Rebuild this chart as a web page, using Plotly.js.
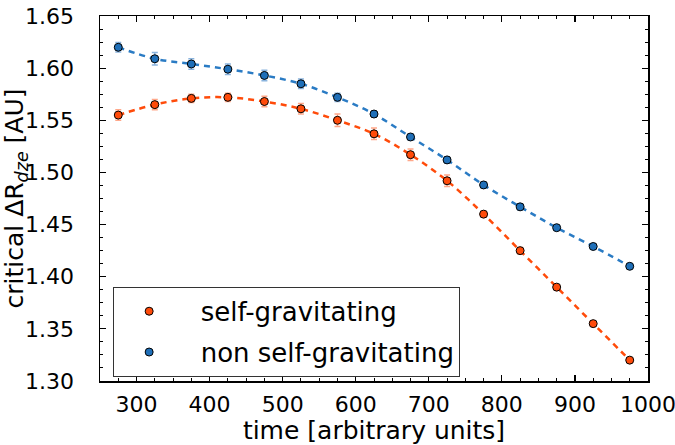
<!DOCTYPE html>
<html>
<head>
<meta charset="utf-8">
<script src="https://cdn.plot.ly/plotly-3.0.1.min.js"></script>
<style>html,body{margin:0;padding:0;background:#fff;}#chart{width:675px;height:445px;}</style>
</head>
<body>
<div id="chart"></div>
<script>
const time = [275, 325, 375, 425, 475, 525, 575, 625, 675, 725, 775, 825, 875, 925, 975];
const selfGrav = [1.555, 1.565, 1.571, 1.572, 1.568, 1.561, 1.550, 1.537, 1.517, 1.492, 1.460, 1.425, 1.390, 1.355, 1.320];
const selfGravErr = [0.005, 0.005, 0.004, 0.004, 0.005, 0.005, 0.006, 0.0055, 0.0055, 0.0055, 0.003, 0.003, 0.002, 0.002, 0.002];
const nonSelfGrav = [1.620, 1.609, 1.604, 1.599, 1.593, 1.585, 1.572, 1.556, 1.534, 1.512, 1.488, 1.467, 1.447, 1.429, 1.410];
const nonSelfGravErr = [0.0045, 0.006, 0.005, 0.005, 0.005, 0.0045, 0.004, 0.003, 0.003, 0.003, 0.003, 0.003, 0.002, 0.002, 0.002];
const xTicks = [300, 400, 500, 600, 700, 800, 900, 1000];
const yTicks = [1.30, 1.35, 1.40, 1.45, 1.50, 1.55, 1.60, 1.65];
const names = ['self-gravitating', 'non self-gravitating'];

const orange = '#ff4b0a', blue = '#1f6fb8';
const font = 'DejaVu Sans, sans-serif';

function fitLine(y, color) {
  return {x: time, y: y, mode: 'lines', line: {color: color, width: 2.5, dash: '6px,5px', shape: 'spline'},
          showlegend: false, hoverinfo: 'skip'};
}
function pts(y, err, color, errColor, name, grp) {
  return {x: time, y: y, mode: 'markers', name: '\u00A0\u00A0' + name, legendgroup: grp,
          marker: {color: color, size: 8, line: {color: '#000', width: 1}},
          error_y: {type: 'data', array: err, visible: true, color: errColor, thickness: 1.5, width: 3}};
}
const data = [
  fitLine(selfGrav, orange),
  fitLine(nonSelfGrav, '#2a7bc4'),
  pts(selfGrav, selfGravErr, orange, 'rgba(255,110,60,0.6)', names[0], 'a'),
  pts(nonSelfGrav, nonSelfGravErr, blue, 'rgba(60,130,200,0.6)', names[1], 'b')
];
const axisCommon = {showgrid: false, zeroline: false, showline: true, linecolor: '#000', linewidth: 1.5,
  mirror: 'allticks', ticks: 'inside', ticklen: 6, tickwidth: 1.2, tickcolor: '#000',
  ticklabeloverflow: 'allow',
  tickfont: {family: font, size: 22, color: '#000'}};
const layout = {
  width: 675, height: 445,
  margin: {l: 100, r: 27, t: 16, b: 64},
  paper_bgcolor: '#fff', plot_bgcolor: '#fff',
  font: {family: font, color: '#000'},
  xaxis: Object.assign({}, axisCommon, {range: [250, 1000], tickvals: xTicks, ticktext: xTicks.map(String),
    ticklabelstandoff: 3,
    minor: {dtick: 25, tick0: 0, ticks: 'inside', ticklen: 3, tickwidth: 1, tickcolor: '#000'},
    title: {text: 'time [arbitrary units]', font: {family: font, size: 25, color: '#000'}, standoff: 5}}),
  yaxis: Object.assign({}, axisCommon, {range: [1.30, 1.65], tickvals: yTicks, ticktext: yTicks.map(v => v.toFixed(2)),
    ticklabelstandoff: 20,
    minor: {dtick: 0.0125, tick0: 1.30, ticks: 'inside', ticklen: 3, tickwidth: 1, tickcolor: '#000'},
    title: {text: 'critical ΔR<sub><i>dze</i></sub> [AU]', font: {family: font, size: 25, color: '#000'}, standoff: 1}}),
  legend: {x: 0.024, y: 0.258, xanchor: 'left', yanchor: 'top', bgcolor: '#fff', bordercolor: '#333', borderwidth: 1,
    font: {family: font, size: 26, color: '#000'}, tracegroupgap: 4, itemwidth: 60},
  showlegend: true
};
Plotly.newPlot('chart', data, layout, {displayModeBar: false, staticPlot: true});
</script>
</body>
</html>
